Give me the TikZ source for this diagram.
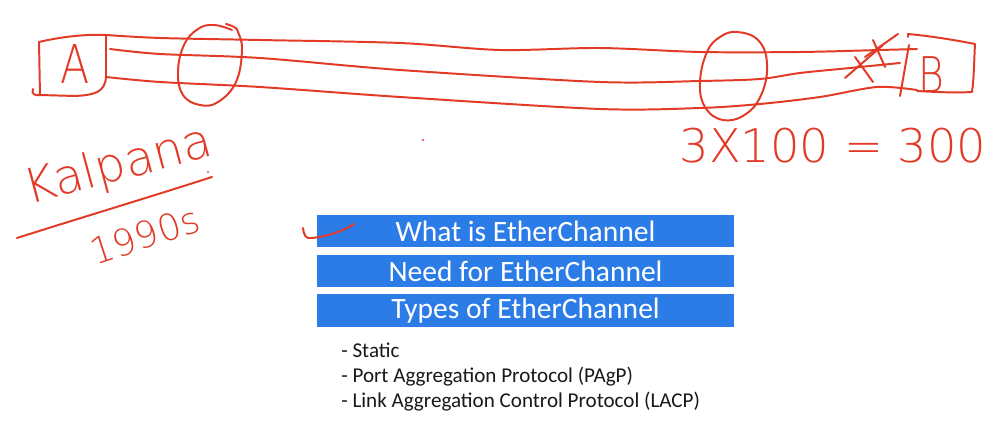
\documentclass[tikz,border=0pt]{standalone}
\usepackage{fontspec}
\setmainfont{Carlito}
\newfontfamily\hand{DejaVu Sans ExtraLight}
\definecolor{inkc}{RGB}{226,58,38}
\definecolor{boxblue}{RGB}{44,124,232}
\definecolor{listc}{RGB}{25,25,25}
\begin{document}
\begin{tikzpicture}[x=0.025cm,y=-0.025cm,
  ink/.style={draw=inkc, line width=1.4pt, line cap=round, line join=round},
  handtext/.style={text=inkc, inner sep=0pt, font=\hand},
  topic/.style={fill=boxblue, text=white, minimum width=10.425cm, minimum height=0.8cm, inner sep=0pt, font=\fontsize{21}{24}\selectfont},
  listitem/.style={anchor=base west, text=listc, inner sep=0pt, font=\fontsize{15}{17}\selectfont}]
\useasboundingbox (0,0) rectangle (1000,425);
\fill[white] (0,0) rectangle (1000,425);

% blue topic boxes
\node[topic] (t1) at (525.5,231) {What is EtherChannel};
\node[topic] (t2) at (525.5,271) {Need for EtherChannel};
\node[topic] (t3) at (525.5,310.5) {Types of EtherChannel};

% list
\node[listitem] (l1) at (341,358) {- Static};
\node[listitem] (l2) at (341,383) {- Port Aggregation Protocol (PAgP)};
\node[listitem] (l3) at (341,408) {- Link Aggregation Control Protocol (LACP)};

% check mark next to first box
\draw[ink] (303,228) .. controls (304,236) and (306,239) .. (312,238) .. controls (330,236) and (345,230) .. (354,224);

% box A
\draw[ink] (33,89) .. controls (31,94) and (35,96) .. (40,95) -- (39,42) .. controls (60,37) and (85,34) .. (106,35) -- (106,77) .. controls (105,92) and (95,95) .. (75,96) -- (40,95);
\node[handtext, font=\hand\fontsize{38}{40}\selectfont, xscale=0.8] (A) at (75,64) {A};

% three links
\draw[ink] plot[smooth, tension=0.5] coordinates {(106,35) (160,38) (260,40) (400,43) (500,50) (600,48) (700,52) (800,52) (880,50) (917,49)};
\draw[ink] plot[smooth, tension=0.5] coordinates {(110,49) (160,54) (260,58) (400,70) (600,82) (700,81) (760,79) (800,73) (850,68) (900,63)};
\draw[ink] plot[smooth, tension=0.5] coordinates {(106,77) (160,82) (260,87) (400,97) (600,109) (700,108) (760,104) (820,97) (877,87) (917,90)};

% left ellipse
\draw[ink] plot[smooth, tension=0.7] coordinates {(226,24) (234,27) (238,32) (242,50) (236,82) (218,102) (200,105) (183,95) (178,72) (184,45) (198,29) (214,25) (232,30)};

% right ellipse
\draw[ink] plot[smooth cycle, tension=0.7] coordinates {(737,32) (758,40) (767,63) (762,93) (746,114) (723,120) (705,107) (700,82) (707,52) (720,37)};

% box B
\draw[ink] (908,37) -- (908,34) .. controls (930,36) and (955,40) .. (975,44) .. controls (974,62) and (974,78) .. (972,92) .. controls (955,93) and (935,92) .. (917,91);
\draw[ink] (909,45) -- (900,96);
\node[handtext, font=\hand\fontsize{35}{38}\selectfont, xscale=0.8] (B) at (931,75) {B};

% cross marks on the links
\draw[ink] (845,78) -- (883,45);
\draw[ink] (855,57) -- (873,82);
\draw[ink] (865,57) -- (898,34);
\draw[ink] (873,40) -- (885,67);

% 3x100 = 300
\node[handtext, anchor=base, font=\hand\fontsize{33}{36}\selectfont] (calc) at (833,163) {3X100 = 300};

% Kalpana / 1990s
\node[handtext, anchor=base, rotate=15, font=\hand\fontsize{34}{36}\selectfont] (name) at (122,180) {Kalpana};
\draw[ink] (17,238) .. controls (80,218) and (150,197) .. (212,177);
\node[handtext, anchor=base, rotate=18, font=\hand\fontsize{26}{30}\selectfont] (year) at (149,248) {1990s};

% stray dots
\fill[inkc] (423,140) circle[radius=1.2];
\fill[inkc] (208,172) circle[radius=1.0];
\end{tikzpicture}
\end{document}
